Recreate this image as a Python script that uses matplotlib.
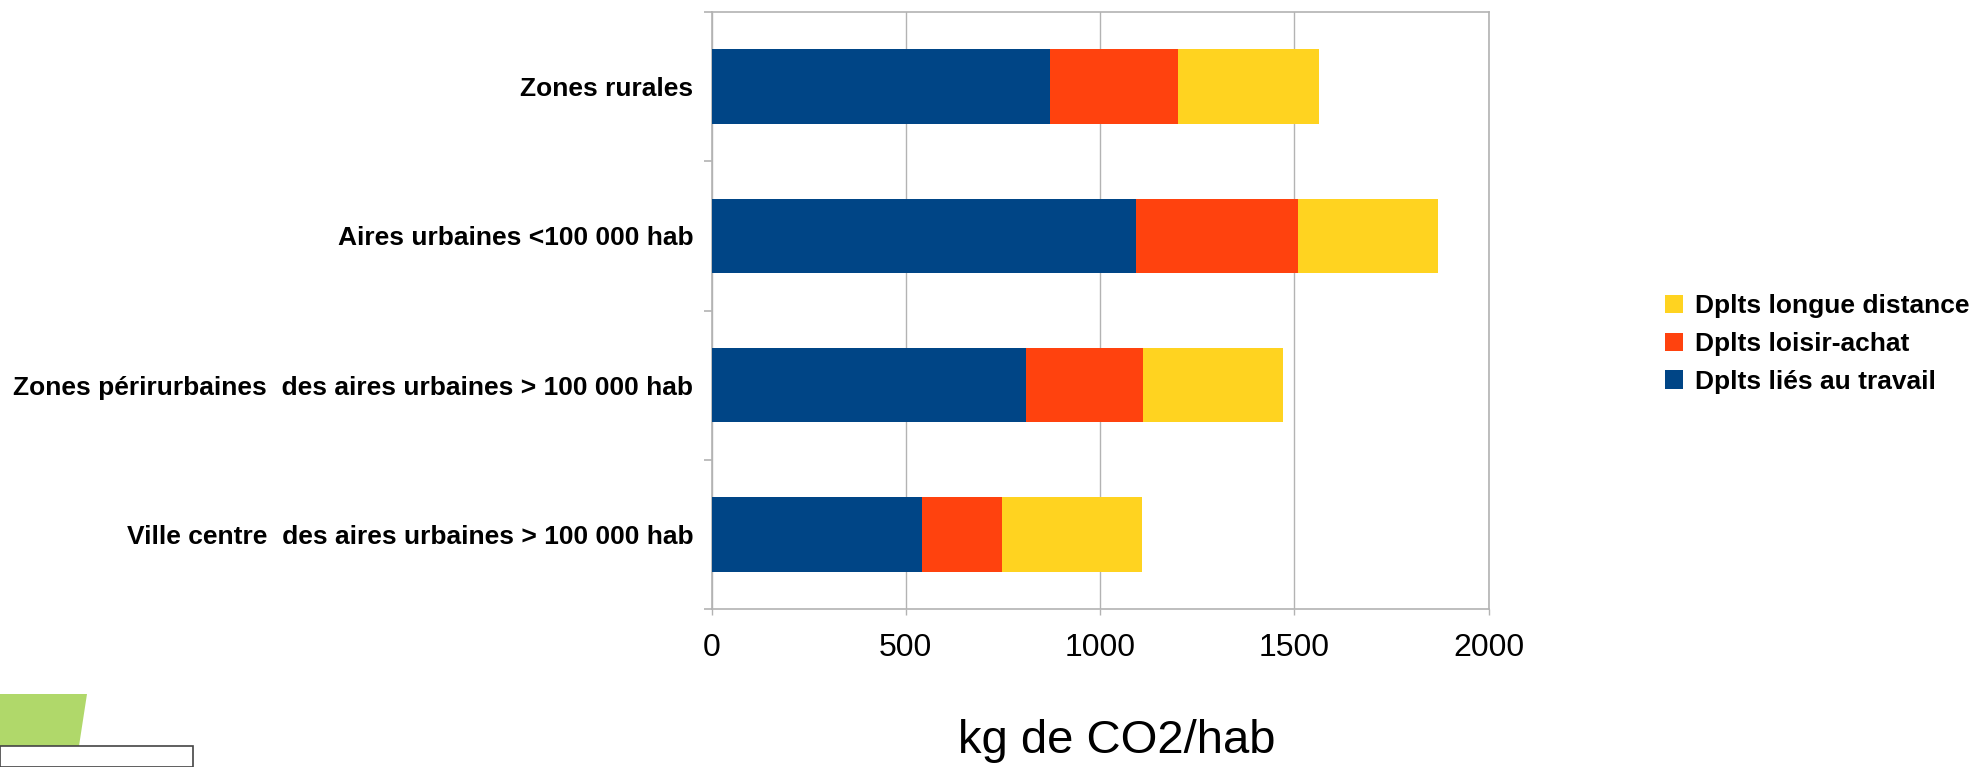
import matplotlib
matplotlib.use("Agg")
import matplotlib.pyplot as plt
from matplotlib.patches import Polygon, Rectangle
import numpy as np

plt.rcParams['font.family'] = ['Liberation Sans', 'DejaVu Sans']

# categories listed bottom to top
categories = [
    "Ville centre  des aires urbaines > 100 000 hab",
    "Zones périrurbaines  des aires urbaines > 100 000 hab",
    "Aires urbaines <100 000 hab",
    "Zones rurales",
]
travail = [541, 808, 1093, 870]
loisir = [206, 303, 417, 331]
longue = [360, 360, 360, 361]

series_names = ["Dplts liés au travail", "Dplts loisir-achat", "Dplts longue distance"]
colors = ["#004586", "#ff420e", "#ffd320"]
xticks = [0, 500, 1000, 1500, 2000]

fig = plt.figure(figsize=(19.85, 7.67), dpi=100)
ax = fig.add_axes([711.5 / 1985, 158 / 767, (1488.8 - 711.5) / 1985, (755 - 158) / 767])

y = np.arange(len(categories))
left = np.zeros(len(categories))
handles = []
for vals, name, col in zip([travail, loisir, longue], series_names, colors):
    h = ax.barh(y, vals, left=left, height=0.5, color=col, label=name, zorder=3)
    handles.append(h)
    left = left + np.array(vals)

ax.set_xlim(0, 2000)
ax.set_ylim(-0.5, len(categories) - 0.5)
ax.set_xticks(xticks)
ax.set_xticklabels([str(t) for t in xticks], fontsize=23)
ax.set_yticks(y)
ax.set_yticklabels(categories, fontsize=19, fontweight='bold')
ax.set_yticks(np.arange(-0.5, len(categories), 1.0), minor=True)

gray = "#b3b3b3"
ax.grid(axis='x', color=gray, linewidth=1.0, zorder=0)
for s in ax.spines.values():
    s.set_color(gray)
    s.set_linewidth(1.2)

ax.tick_params(axis='y', which='major', length=0, pad=13)
ax.tick_params(axis='y', which='minor', length=6, color=gray, width=1.2)
ax.tick_params(axis='x', which='major', length=4, color=gray, width=1.0, pad=13)

fig.text(1117 / 1985, 26 / 767, "kg de CO2/hab", fontsize=34, ha='center', va='center')

leg = fig.legend(handles[::-1], [h.get_label() for h in handles[::-1]],
                 loc='center left', bbox_to_anchor=(1665 / 1985, 1 - 344 / 767),
                 frameon=False, prop={'size': 19, 'weight': 'bold'},
                 handlelength=0.7, handleheight=0.7, handletextpad=0.45,
                 labelspacing=0.52, borderaxespad=0, borderpad=0)

# decorative corner shapes
W, H = 1985, 767
green = Polygon([(0 / W, 1 - 694 / H), (87 / W, 1 - 694 / H), (79 / W, 1 - 746 / H), (0 / W, 1 - 746 / H)],
                closed=True, transform=fig.transFigure, facecolor="#b0d86a", edgecolor='none')
fig.patches.append(green)
box = Rectangle((0, 0), 193 / W, (767 - 746) / H, transform=fig.transFigure,
                facecolor='white', edgecolor='#444444', linewidth=1.2)
fig.patches.append(box)

fig.savefig("out.png", dpi=100)
